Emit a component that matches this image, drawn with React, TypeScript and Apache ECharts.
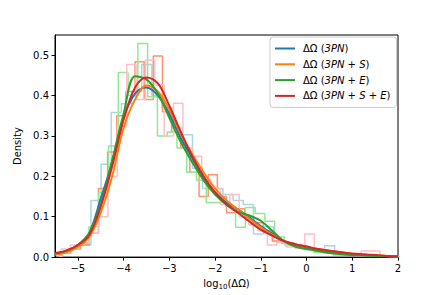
import React, { useEffect, useRef } from "react";
import * as echarts from "echarts";

// KDE curves sampled on a common x grid (log10 ΔΩ)
const KDE_X = [-5.5, -5.25, -5, -4.75, -4.5, -4.25, -4, -3.75, -3.5, -3.25, -3, -2.75, -2.5, -2.25, -2, -1.75, -1.5, -1.25, -1, -0.75, -0.5, -0.25, 0, 0.25, 0.5, 0.75, 1, 1.25, 1.5, 1.75, 2];
const KDE_3PN = [0.008, 0.015, 0.03, 0.06, 0.145, 0.235, 0.345, 0.405, 0.42, 0.4, 0.355, 0.295, 0.245, 0.195, 0.16, 0.135, 0.118, 0.098, 0.077, 0.058, 0.04, 0.03, 0.024, 0.018, 0.014, 0.01, 0.007, 0.005, 0.003, 0.002, 0.001];
const KDE_3PN_S = [0.006, 0.012, 0.025, 0.05, 0.11, 0.2, 0.32, 0.39, 0.425, 0.41, 0.365, 0.305, 0.255, 0.21, 0.17, 0.14, 0.118, 0.095, 0.074, 0.055, 0.04, 0.032, 0.026, 0.02, 0.016, 0.012, 0.008, 0.006, 0.005, 0.003, 0.002];
const KDE_3PN_E = [0.008, 0.016, 0.03, 0.06, 0.13, 0.24, 0.355, 0.448, 0.44, 0.405, 0.345, 0.285, 0.235, 0.19, 0.155, 0.13, 0.112, 0.103, 0.09, 0.065, 0.04, 0.026, 0.02, 0.015, 0.01, 0.007, 0.005, 0.004, 0.003, 0.002, 0.001];
const KDE_3PN_S_E = [0.01, 0.016, 0.03, 0.055, 0.125, 0.225, 0.34, 0.42, 0.445, 0.43, 0.375, 0.31, 0.25, 0.2, 0.16, 0.13, 0.11, 0.088, 0.068, 0.053, 0.04, 0.032, 0.026, 0.02, 0.016, 0.012, 0.009, 0.007, 0.005, 0.003, 0.002];

// Histogram bins: first edge, bin width, densities
const HIST_3PN_START = -5.38;
const HIST_3PN_WIDTH = 0.222;
const HIST_3PN = [0.012, 0.02, 0.03, 0.14, 0.23, 0.358, 0.38, 0.41, 0.477, 0.4, 0.37, 0.32, 0.303, 0.22, 0.17, 0.17, 0.155, 0.14, 0.13, 0.057, 0.075, 0.04, 0.035, 0.025, 0.018, 0.015, 0.028, 0.012, 0.008, 0.004, 0.004, 0.002];

const HIST_3PN_S_START = -5.35;
const HIST_3PN_S_WIDTH = 0.2;
const HIST_3PN_S = [0.01, 0.02, 0.03, 0.06, 0.17, 0.26, 0.35, 0.41, 0.484, 0.39, 0.498, 0.36, 0.31, 0.27, 0.21, 0.15, 0.204, 0.15, 0.11, 0.12, 0.1, 0.085, 0.065, 0.04, 0.035, 0.03, 0.025, 0.02, 0.018, 0.014, 0.01, 0.008, 0.006, 0.006, 0.004, 0.003];

const HIST_3PN_E_START = -5.398;
const HIST_3PN_E_WIDTH = 0.2137;
const HIST_3PN_E = [0.012, 0.02, 0.035, 0.075, 0.16, 0.275, 0.457, 0.4, 0.529, 0.397, 0.3, 0.31, 0.27, 0.21, 0.19, 0.135, 0.135, 0.125, 0.074, 0.123, 0.108, 0.089, 0.05, 0.03, 0.028, 0.02, 0.012, 0.01, 0.005, 0.005, 0.004, 0.003, 0.002, 0.002, 0.001];

const HIST_3PN_S_E_START = -5.367;
const HIST_3PN_S_E_WIDTH = 0.205;
const HIST_3PN_S_E = [0.02, 0.03, 0.035, 0.06, 0.1, 0.2, 0.325, 0.477, 0.39, 0.488, 0.426, 0.3, 0.381, 0.27, 0.25, 0.19, 0.17, 0.13, 0.155, 0.1, 0.08, 0.065, 0.03, 0.037, 0.025, 0.022, 0.057, 0.02, 0.015, 0.01, 0.007, 0.005, 0.015, 0.015, 0.003];

const SERIES_NAMES = ["3PN", "3PN+S", "3PN+E", "3PN+S+E"];
const LEGEND_TEXT: Record<string, string> = {
  "3PN": "{g|}{n|ΔΩ (}{i|3PN}{n|)}",
  "3PN+S": "{g|}{n|ΔΩ (}{i|3PN}{n| + }{i|S}{n|)}",
  "3PN+E": "{g|}{n|ΔΩ (}{i|3PN}{n| + }{i|E}{n|)}",
  "3PN+S+E": "{g|}{n|ΔΩ (}{i|3PN}{n| + }{i|S}{n| + }{i|E}{n|)}",
};
const X_TICKS = [-5, -4, -3, -2, -1, 0, 1, 2];
const X_NAME = "{a|log}{s|10}{a|(ΔΩ)}";

const KDE_COLORS = ["#1f77b4", "#ff7f0e", "#2ca02c", "#d62728"];
const HIST_COLORS = ["#a9d6e8", "#ff936f", "#94e894", "#ffbfc8"];
const FONT = "DejaVu Sans";

function histPoints(start: number, width: number, vals: number[]) {
  const pts: number[][] = [[start, 0]];
  vals.forEach((v, i) => pts.push([start + i * width, v]));
  const end = start + vals.length * width;
  pts.push([end, vals[vals.length - 1]]);
  pts.push([end, 0]);
  return pts;
}

export default function App() {
  const ref = useRef<HTMLDivElement>(null);
  useEffect(() => {
    if (!ref.current) return;
    const chart = echarts.init(ref.current, undefined, { renderer: "svg" });
    const kdes = [KDE_3PN, KDE_3PN_S, KDE_3PN_E, KDE_3PN_S_E];
    const hists = [
      histPoints(HIST_3PN_START, HIST_3PN_WIDTH, HIST_3PN),
      histPoints(HIST_3PN_S_START, HIST_3PN_S_WIDTH, HIST_3PN_S),
      histPoints(HIST_3PN_E_START, HIST_3PN_E_WIDTH, HIST_3PN_E),
      histPoints(HIST_3PN_S_E_START, HIST_3PN_S_E_WIDTH, HIST_3PN_S_E),
    ];
    const series: any[] = [];
    hists.forEach((h, i) => {
      series.push({
        name: "hist" + i,
        type: "line",
        step: "end",
        data: h,
        showSymbol: false,
        silent: true,
        clip: true,
        z: 1,
        lineStyle: { color: HIST_COLORS[i], width: 1.5 },
        itemStyle: { color: HIST_COLORS[i] },
      });
    });
    kdes.forEach((k, i) => {
      series.push({
        name: SERIES_NAMES[i],
        type: "line",
        smooth: 0.35,
        data: KDE_X.map((x, j) => [x, k[j]]),
        showSymbol: false,
        clip: true,
        z: 3,
        lineStyle: { color: KDE_COLORS[i], width: 2 },
        itemStyle: { color: KDE_COLORS[i] },
      });
    });
    chart.setOption({
      animation: false,
      grid: { left: 55, right: 45, top: 35, bottom: 37, show: true, borderColor: "#000", borderWidth: 1, backgroundColor: "transparent" },
      legend: {
        data: SERIES_NAMES,
        orient: "vertical",
        left: 270,
        top: 37,
        icon: "rect",
        itemWidth: 20,
        itemHeight: 2,
        itemGap: 4.8,
        padding: [6, 6, 6, 5],
        borderColor: "#cccccc",
        borderWidth: 1,
        borderRadius: 3,
        backgroundColor: "rgba(255,255,255,0.8)",
        formatter: (name: string) => LEGEND_TEXT[name],
        textStyle: {
          fontFamily: FONT,
          fontSize: 10,
          color: "#000",
          lineHeight: 11,
          rich: {
            g: { width: 3 },
            n: { fontFamily: FONT, fontSize: 10, color: "#000" },
            i: { fontFamily: FONT, fontSize: 10, color: "#000", fontStyle: "italic" },
          },
        },
      },
      xAxis: {
        type: "value",
        min: -5.5,
        max: 2,
        name: X_NAME,
        nameLocation: "middle",
        nameGap: 18,
        nameTextStyle: {
          fontFamily: FONT,
          fontSize: 10,
          color: "#000",
          rich: {
            a: { fontFamily: FONT, fontSize: 10, color: "#000", lineHeight: 14, verticalAlign: "middle" },
            s: { fontFamily: FONT, fontSize: 7, color: "#000", lineHeight: 14, verticalAlign: "bottom" },
          },
        },
        splitLine: { show: false },
        axisLine: { show: true, onZero: false, lineStyle: { color: "#000", width: 1 } },
        axisTick: { show: true, inside: false, length: 3.5, lineStyle: { color: "#000" }, customValues: X_TICKS },
        axisLabel: {
          show: true,
          margin: 6,
          fontFamily: FONT,
          fontSize: 10,
          color: "#000",
          customValues: X_TICKS,
          formatter: (v: number) => String(v).replace("-", "\u2212"),
        },
      },
      yAxis: {
        type: "value",
        min: 0,
        max: 0.55,
        interval: 0.1,
        name: "Density",
        nameLocation: "middle",
        nameGap: 30,
        nameTextStyle: { fontFamily: FONT, fontSize: 10, color: "#000" },
        splitLine: { show: false },
        axisLine: { show: true, onZero: false, lineStyle: { color: "#000", width: 1 } },
        axisTick: { show: true, inside: false, length: 3.5, lineStyle: { color: "#000" } },
        axisLabel: {
          margin: 6,
          fontFamily: FONT,
          fontSize: 10,
          color: "#000",
          showMaxLabel: false,
          formatter: (v: number) => v.toFixed(1),
        },
      },
      series,
    });
    return () => chart.dispose();
  }, []);
  return <div ref={ref} style={{ width: 443, height: 295, position: "absolute", left: 0, top: 0 }} />;
}
